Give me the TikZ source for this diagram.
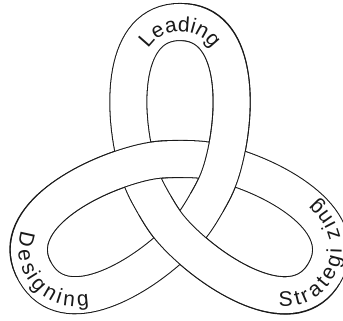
\documentclass[tikz,border=0pt]{standalone}
\usepackage{fontspec}
\setmainfont{Liberation Sans}
\usepackage{tikz}
\usetikzlibrary{decorations.text, calc}
\definecolor{knotink}{RGB}{25, 25, 25}
\newcommand{\lobefont}{\fontsize{12}{14}\selectfont}

\begin{document}
\begin{tikzpicture}[
    band/.style={draw=knotink, line width=0.6pt, double=white, double distance=0.72cm},
    overband/.style={preaction={draw=knotink, line width=21.6pt, shorten <=1pt, shorten >=1pt},
        draw=white, line width=20.4pt}]
    \useasboundingbox (-3.6,-2.64) rectangle (3.26,3.78);

    % crossings, lobe tips and the midpoints between crossings
    \coordinate (L) at (150:1);
    \coordinate (R) at (30:1);
    \coordinate (B) at (270:1);
    \coordinate (T) at (90:3.34);
    \coordinate (D) at (210:3.34);
    \coordinate (S) at (330:3.34);
    \coordinate (Mt) at (90:0.6);
    \coordinate (Mr) at (330:0.6);
    \coordinate (Ml) at (210:0.6);

    % whole knot
    \draw[band] (R) to[out=-105,in=60] (Mr) to[out=-120,in=45] (B)
        to[out=225,in=300] (D) to[out=120,in=195] (L)
        to[out=15,in=180] (Mt) to[out=0,in=165] (R)
        to[out=-15,in=60] (S) to[out=-120,in=-45] (B)
        to[out=135,in=-60] (Ml) to[out=120,in=-75] (L)
        to[out=105,in=180] (T) to[out=0,in=75] (R);

    % strands passing over
    \draw[overband] (T) to[out=0,in=75] (R) to[out=-105,in=60] (Mr);
    \draw[overband] (D) to[out=120,in=195] (L) to[out=15,in=180] (Mt);
    \draw[overband] (S) to[out=-120,in=-45] (B) to[out=135,in=-60] (Ml);

    % lobe names
    \path[decorate, decoration={text along path, text align=center, text color=knotink,
        text={|\lobefont|Leading}}]
        ($(L)+(15:0.2)$) to[out=105,in=180] ($(T)+(270:0.2)$) to[out=0,in=75] ($(R)+(165:0.2)$);
    \path[decorate, decoration={text along path, text align=center, raise=-8.8pt, text color=knotink,
        text={|\lobefont|Designing}}]
        ($(L)+(285:0.1)$) to[out=195,in=120] ($(D)+(30:0.1)$) to[out=300,in=225] ($(B)+(135:0.1)$)
        -- ++(45:0.36);
    \path[decorate, decoration={text along path, text align=center, raise=-8.8pt, text color=knotink,
        text={|\lobefont|Strategi zing}}]
        ($(B)+(45:0.1)$) to[out=-45,in=-120] ($(S)+(150:0.1)$) to[out=60,in=-15] ($(R)+(255:0.1)$)
        -- ++(165:0.36);
\end{tikzpicture}
\end{document}
